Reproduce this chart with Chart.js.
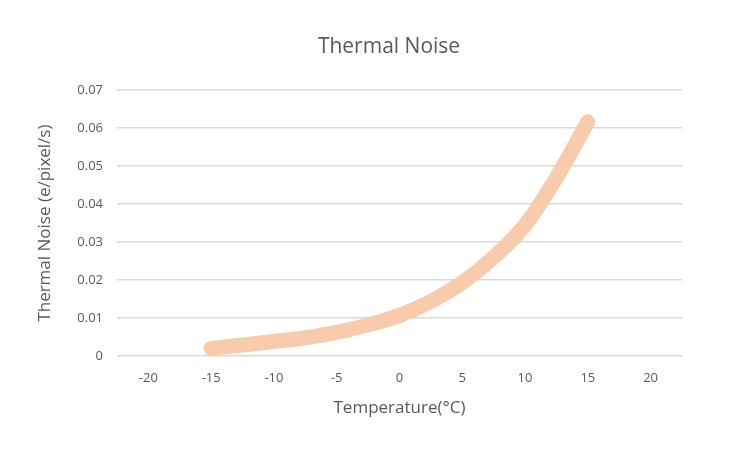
<!DOCTYPE html>
<html>
<head>
<meta charset="utf-8">
<script src="https://cdn.jsdelivr.net/npm/chart.js@4"></script>
<style>
  html, body { margin: 0; padding: 0; background: #ffffff; }
  #wrap { width: 751px; height: 450px; }
</style>
</head>
<body>
<div id="wrap"><canvas id="myChart"></canvas></div>
<script>
const ctx = document.getElementById("myChart");

// values
const temperatures = [-15, -12.5, -10, -7.5, -5, -2.5, 0, 2.5, 5, 7.5, 10, 12.5, 15];
const noise = [0.002, 0.0029, 0.0038, 0.0048, 0.0062, 0.0082, 0.0107, 0.0144, 0.0193, 0.026, 0.0345, 0.047, 0.0617];

const xTicks = [-20, -15, -10, -5, 0, 5, 10, 15, 20];
const yTicks = [0, 0.01, 0.02, 0.03, 0.04, 0.05, 0.06, 0.07];

const textColor = "#595959";
const fontFamily = "'Open Sans'";

let points = temperatures.map(function (t, i) {
  return { x: t, y: noise[i] };
});

// the title in the reference sits a bit left of the plot centre
const titleShift = {
  id: "titleShift",
  afterLayout: function (chart) {
    if (chart.titleBlock) {
      chart.titleBlock.left = 96;
    }
  },
};

new Chart(ctx, {
  type: "line",
  data: {
    datasets: [
      {
        data: points,
        borderColor: "#f8cbad",
        borderWidth: 15,
        borderCapStyle: "round",
        borderJoinStyle: "round",
        tension: 0.4,
        pointRadius: 0,
        pointHoverRadius: 0,
        fill: false,
      },
    ],
  },
  plugins: [titleShift],
  options: {
    responsive: true,
    maintainAspectRatio: false,
    animation: false,
    layout: {
      padding: { left: 0, right: 69, top: 0, bottom: 0 },
    },
    plugins: {
      legend: { display: false },
      tooltip: { enabled: false },
      title: {
        display: true,
        text: "Thermal Noise",
        color: textColor,
        font: { size: 21, family: fontFamily, weight: "normal" },
        padding: { top: 34, bottom: 31 },
      },
    },
    scales: {
      x: {
        type: "linear",
        min: -22.5,
        max: 22.5,
        afterBuildTicks: function (scale) {
          scale.ticks = xTicks.map(function (v) {
            return { value: v };
          });
        },
        afterFit: function (scale) {
          scale.height = 94;
        },
        grid: { display: false },
        border: { display: false },
        ticks: {
          color: textColor,
          padding: 6,
          maxRotation: 0,
          font: { size: 13, family: fontFamily },
        },
        title: {
          display: true,
          text: "Temperature(°C)",
          color: textColor,
          font: { size: 17, family: fontFamily },
          padding: { top: 0, bottom: 32 },
        },
      },
      y: {
        min: 0,
        max: 0.07,
        afterBuildTicks: function (scale) {
          scale.ticks = yTicks.map(function (v) {
            return { value: v };
          });
        },
        afterFit: function (scale) {
          scale.width = 117;
        },
        grid: {
          color: "#d9d9d9",
          lineWidth: 1.5,
          drawTicks: false,
        },
        border: { display: false },
        ticks: {
          color: textColor,
          padding: 14,
          font: { size: 13, family: fontFamily },
          callback: function (value) {
            return String(Math.round(value * 100) / 100);
          },
        },
        title: {
          display: true,
          text: "Thermal Noise (e/pixel/s)",
          color: textColor,
          font: { size: 17, family: fontFamily },
          padding: { top: 35, bottom: 0 },
        },
      },
    },
  },
});
</script>
</body>
</html>
